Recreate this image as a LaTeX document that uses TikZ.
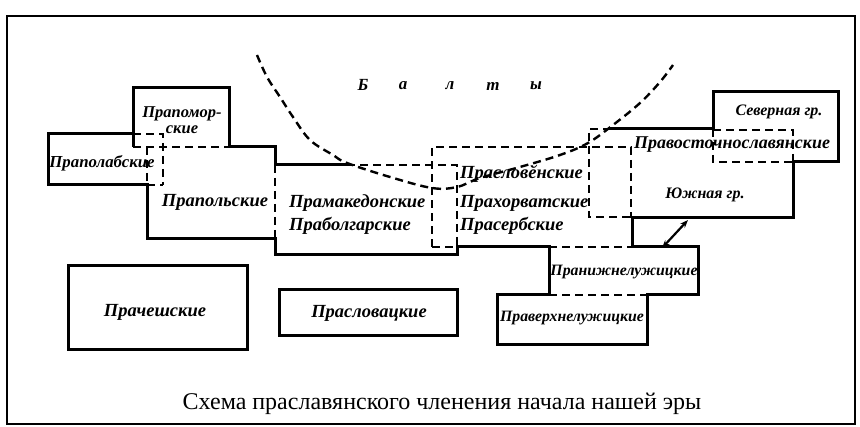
\documentclass[tikz,border=0pt]{standalone}
\usepackage{fontspec}
\setmainfont{Liberation Serif}
\usetikzlibrary{arrows.meta}
\begin{document}
\begin{tikzpicture}[x=1pt,y=-1pt,
  solidln/.style={line width=3pt,line join=miter,line cap=rect},
  dashln/.style={line width=2.4pt,dash pattern=on 8pt off 5pt},
  lbl/.style={font=\fontsize{18.5}{18.5}\selectfont\bfseries\itshape,inner sep=0pt},
  lblw/.style={lbl,anchor=west},
  balt/.style={font=\fontsize{17}{17}\selectfont\bfseries\itshape,inner sep=0pt},
  capt/.style={font=\fontsize{24}{24}\selectfont,inner sep=0pt,anchor=base}]
\useasboundingbox (0,0) rectangle (860,427);
\fill[white] (0,0) rectangle (860,427);
\draw[line width=1.4pt] (7,16) rectangle (855,424);

% solid outlines
\draw[solidln] (133,134) -- (48,134) -- (48,185) -- (147,185) -- (147,239) -- (275,239)
  -- (275,255) -- (457,255) -- (457,247) -- (549,247) -- (549,295) -- (497,295)
  -- (497,345) -- (647,345) -- (647,295) -- (698,295) -- (698,247) -- (632,247)
  -- (632,218) -- (793,218) -- (793,162) -- (838,162) -- (838,92) -- (713,92)
  -- (713,129) -- (611,129);
\draw[solidln] (133,146) -- (133,88) -- (229,88) -- (229,147) -- (275,147) -- (275,165) -- (347,165);

% dashed lines
\draw[dashln] (133,134) -- (163,134) -- (163,185);
\draw[dashln] (147,185) -- (163,185);
\draw[dashln] (133,147) -- (229,147);
\draw[dashln] (147,147) -- (147,185);
\draw[dashln] (275,165) -- (275,239);
\draw[dashln] (347,165) -- (457,165) -- (457,247);
\draw[dashln] (432,247) -- (432,147) -- (631,147) -- (631,218);
\draw[dashln] (432,247) -- (457,247);
\draw[dashln] (549,247) -- (632,247);
\draw[dashln] (611,129) -- (589,129) -- (589,217) -- (632,217);
\draw[dashln] (713,129) -- (713,162) -- (793,162);
\draw[dashln] (713,130) -- (793,130) -- (793,162);
\draw[dashln] (549,295) -- (647,295);

% Baltic boundary curve
\draw[dashln] plot[smooth,tension=0.6] coordinates {(257,55) (267,77) (280,97) (293,117) (310,140) (333,155) (347,163) (390,177) (432,188) (457,187) (480,178) (520,167) (560,155) (588,143) (613,125) (640,103) (660,82) (673,65)};

% separate boxes
\draw[solidln] (68,266) rectangle (247,350);
\draw[solidln] (279,290) rectangle (457,336);

% arrow
\coordinate (arrN) at (688,220);
\coordinate (arrS) at (662,248);
\draw[line width=2.2pt,{Stealth[length=8pt,width=6pt]}-{Stealth[length=8pt,width=6pt]}] (arrS) -- (arrN);

% labels
\node[balt] (b1) at (363,85) {Б};
\node[balt] (b2) at (403,86) {а};
\node[balt] (b3) at (450,86) {л};
\node[balt] (b4) at (493,86) {т};
\node[balt] (b5) at (536,86) {ы};

\node[lbl,align=center,font=\fontsize{16.5}{16}\selectfont\bfseries\itshape] (pomor) at (182,120) {Прапомор-\\ские};
\node[lbl,font=\fontsize{16.8}{16.8}\selectfont\bfseries\itshape] (polab) at (102,163) {Праполабские};
\node[lbl] (polsk) at (215,202) {Прапольские};
\node[lblw] (maked) at (289,203) {Прамакедонские};
\node[lblw] (bolg) at (289,226) {Праболгарские};
\node[lblw] (slov) at (460,174) {Прасловӗнские};
\node[lblw] (horv) at (460,203) {Прахорватские};
\node[lblw] (serb) at (460,226) {Прасербские};
\node[lbl,font=\fontsize{18}{18}\selectfont\bfseries\itshape] (vost) at (732,145) {Правосточнославянские};
\node[lbl,font=\fontsize{16}{16}\selectfont\bfseries\itshape] (sev) at (779,112) {Северная гр.};
\node[lbl,font=\fontsize{16}{16}\selectfont\bfseries\itshape] (yuzh) at (705,195) {Южная гр.};
\node[lbl,font=\fontsize{15.8}{15.8}\selectfont\bfseries\itshape] (nizh) at (624,272) {Пранижнелужицкие};
\node[lbl,font=\fontsize{15.8}{15.8}\selectfont\bfseries\itshape] (verh) at (572,318) {Праверхнелужицкие};
\node[lbl] (chesh) at (155,312) {Прачешские};
\node[lbl] (slovac) at (369,313) {Прасловацкие};

\node[capt] (cap) at (442,410) {Схема праславянского членения начала нашей эры};
\end{tikzpicture}
\end{document}
